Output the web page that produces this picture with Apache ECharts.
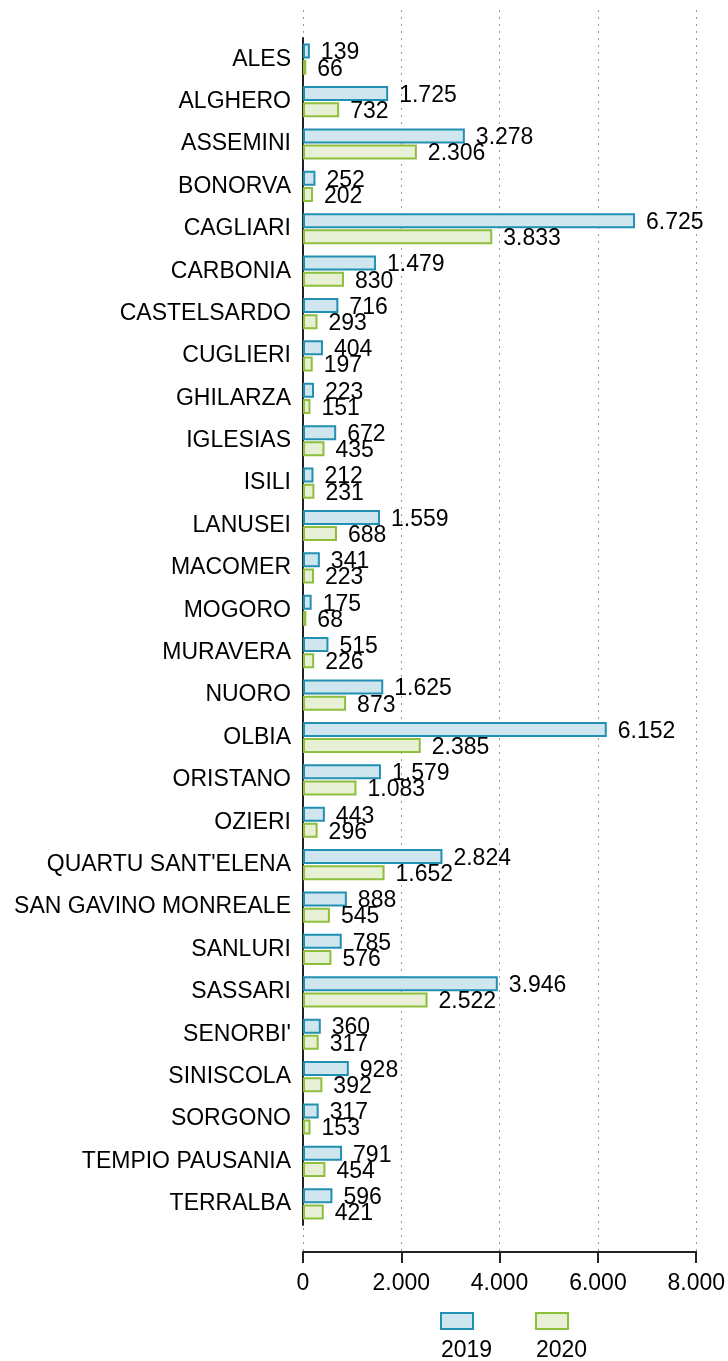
<!DOCTYPE html>
<html>
<head>
<meta charset="utf-8">
<script src="https://cdn.jsdelivr.net/npm/echarts@6/dist/echarts.min.js"></script>
<style>
  html, body { margin: 0; padding: 0; background: #fff; }
  #chart { width: 728px; height: 1361px; }
</style>
</head>
<body>
<div id="chart"></div>
<script>
// dati
var comuni = ["ALES","ALGHERO","ASSEMINI","BONORVA","CAGLIARI","CARBONIA","CASTELSARDO","CUGLIERI","GHILARZA","IGLESIAS","ISILI","LANUSEI","MACOMER","MOGORO","MURAVERA","NUORO","OLBIA","ORISTANO","OZIERI","QUARTU SANT'ELENA","SAN GAVINO MONREALE","SANLURI","SASSARI","SENORBI'","SINISCOLA","SORGONO","TEMPIO PAUSANIA","TERRALBA"];
var val2019 = [139,1725,3278,252,6725,1479,716,404,223,672,212,1559,341,175,515,1625,6152,1579,443,2824,888,785,3946,360,928,317,791,596];
var val2020 = [66,732,2306,202,3833,830,293,197,151,435,231,688,223,68,226,873,2385,1083,296,1652,545,576,2522,317,392,153,454,421];
var anni = ['2019', '2020'];
var assePassi = [0, 2000, 4000, 6000, 8000];

var font = 'Liberation Sans, Arial, sans-serif';

// separatore migliaia con il punto
function fmt(v) {
    return String(v).replace(/\B(?=(\d{3})+(?!\d))/g, '.');
}

// legenda: testo sotto il quadratino
function legenda(nome, x) {
    return {
        data: [nome], left: x, top: 1261, padding: 0,
        itemWidth: 32, itemHeight: 16, icon: 'rect',
        formatter: '\n{name}',
        textStyle: {fontFamily: font, fontSize: 23, lineHeight: 60, color: '#000', padding: [0, 0, 0, -37]}
    };
}

var chart = echarts.init(document.getElementById('chart'));

var option = {
    animation: false,
    grid: [
        {left: 303, right: 30, top: 38, bottom: 136},   // barre
        {left: 303, right: 30, top: 10, bottom: 109}    // asse valori + griglia
    ],
    legend: [legenda(anni[0], 440), legenda(anni[1], 535)],
    xAxis: [
        {gridIndex: 0, type: 'value', min: 0, max: 8000, interval: 2000, show: false},
        {
            gridIndex: 1, type: 'value', min: 0, max: assePassi[assePassi.length - 1], interval: 2000,
            axisLine: {show: true, lineStyle: {color: '#222', width: 2}},
            axisTick: {show: true, length: 11, lineStyle: {color: '#222', width: 2}},
            axisLabel: {fontFamily: font, fontSize: 23, color: '#000', margin: 20, formatter: fmt},
            splitLine: {show: true, lineStyle: {color: '#999', type: [2, 5], width: 1}}
        }
    ],
    yAxis: [
        {
            gridIndex: 0, type: 'category', data: comuni, inverse: true,
            axisLine: {show: true, lineStyle: {color: '#222', width: 2}},
            axisTick: {show: false},
            axisLabel: {fontFamily: font, fontSize: 23, color: '#000', margin: 12}
        },
        {gridIndex: 1, type: 'value', show: false}
    ],
    series: [
        {
            name: anni[0], type: 'bar', xAxisIndex: 0, yAxisIndex: 0,
            data: val2019, barWidth: 15, barGap: '8%',
            itemStyle: {color: '#cfe6ee', borderColor: '#2190b3', borderWidth: 2},
            label: {show: true, position: 'right', distance: 11, offset: [0, 2],
                fontFamily: font, fontSize: 23, color: '#000',
                formatter: function (p) { return fmt(p.value); }}
        },
        {
            name: anni[1], type: 'bar', xAxisIndex: 0, yAxisIndex: 0,
            data: val2020, barWidth: 15, barGap: '8%',
            itemStyle: {color: '#e7f0d4', borderColor: '#8dbf3c', borderWidth: 2},
            label: {show: true, position: 'right', distance: 11, offset: [0, 2],
                fontFamily: font, fontSize: 23, color: '#000',
                formatter: function (p) { return fmt(p.value); }}
        }
    ]
};

chart.setOption(option);
</script>
</body>
</html>
